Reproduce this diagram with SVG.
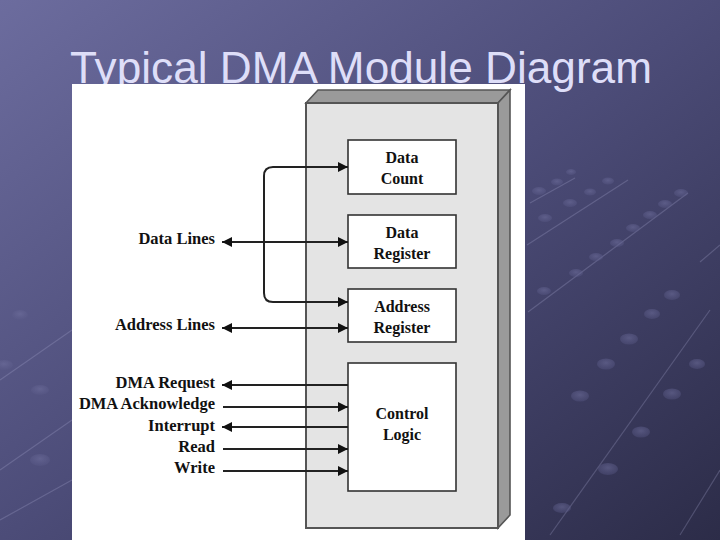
<svg xmlns="http://www.w3.org/2000/svg" width="720" height="540" viewBox="0 0 720 540">
  <defs>
    <linearGradient id="bg" x1="0" y1="0" x2="1" y2="1">
      <stop offset="0" stop-color="#6c6c9e"/>
      <stop offset="0.5" stop-color="#4c4c78"/>
      <stop offset="1" stop-color="#2c2c48"/>
    </linearGradient>
    <marker id="ah" markerUnits="userSpaceOnUse" markerWidth="11" markerHeight="10" refX="10" refY="5" orient="auto-start-reverse">
      <path d="M0,0 L10,5 L0,10 z" fill="#111"/>
    </marker>
    <radialGradient id="stud" cx="0.5" cy="0.4" r="0.6">
      <stop offset="0" stop-color="#7272a0" stop-opacity="0.55"/>
      <stop offset="1" stop-color="#5a5a88" stop-opacity="0.35"/>
    </radialGradient>
  </defs>
  <style>
    .title { font-family: "Liberation Sans", Arial, sans-serif; font-size: 44px; fill: #dedef8; }
    .lbl { font-family: "Liberation Serif", "Times New Roman", serif; font-size: 16.5px; font-weight: bold; fill: #111; }
    .blbl { font-family: "Liberation Serif", "Times New Roman", serif; font-size: 16px; font-weight: bold; fill: #111; }
    .box { fill: #ffffff; stroke: #333; stroke-width: 1.6; }
    .wire { fill: none; stroke: #222; stroke-width: 2; }
    .deco { stroke: #a8a8d0; stroke-opacity: 0.28; stroke-width: 1.2; fill: none; }
    .dot { fill: url(#stud); }
  </style>

  <rect x="0" y="0" width="720" height="540" fill="url(#bg)"/>

  <g id="background-decoration">
    <path class="deco" d="M530,203 L575,178"/>
    <path class="deco" d="M527,245 L628,180"/>
    <path class="deco" d="M528,312 L688,193"/>
    <path class="deco" d="M550,535 L710,310"/>
    <path class="deco" d="M680,535 L720,470"/>
    <path class="deco" d="M700,262 L720,245"/>
    <path class="deco" d="M0,520 L72,480"/>
    <path class="deco" d="M0,470 L72,420"/>
    <path class="deco" d="M0,380 L72,330"/>
    <ellipse class="dot" cx="539" cy="191" rx="7" ry="4"/>
    <ellipse class="dot" cx="557" cy="182" rx="6" ry="3.5"/>
    <ellipse class="dot" cx="571" cy="172" rx="5" ry="3"/>
    <ellipse class="dot" cx="545" cy="218" rx="7" ry="4"/>
    <ellipse class="dot" cx="570" cy="203" rx="7" ry="4"/>
    <ellipse class="dot" cx="590" cy="192" rx="6" ry="3.5"/>
    <ellipse class="dot" cx="608" cy="181" rx="6" ry="3.5"/>
    <ellipse class="dot" cx="544" cy="291" rx="7" ry="4"/>
    <ellipse class="dot" cx="576" cy="273" rx="7" ry="4"/>
    <ellipse class="dot" cx="596" cy="257" rx="7" ry="4"/>
    <ellipse class="dot" cx="617" cy="243" rx="7" ry="4"/>
    <ellipse class="dot" cx="633" cy="228" rx="7" ry="4"/>
    <ellipse class="dot" cx="650" cy="215" rx="7" ry="4"/>
    <ellipse class="dot" cx="665" cy="204" rx="7" ry="4"/>
    <ellipse class="dot" cx="681" cy="193" rx="7" ry="4"/>
    <ellipse class="dot" cx="562" cy="508" rx="9" ry="5"/>
    <ellipse class="dot" cx="608" cy="469" rx="10" ry="6"/>
    <ellipse class="dot" cx="641" cy="432" rx="9" ry="5.5"/>
    <ellipse class="dot" cx="672" cy="394" rx="9" ry="5.5"/>
    <ellipse class="dot" cx="697" cy="364" rx="8" ry="5"/>
    <ellipse class="dot" cx="580" cy="396" rx="9" ry="5.5"/>
    <ellipse class="dot" cx="606" cy="364" rx="9" ry="5.5"/>
    <ellipse class="dot" cx="629" cy="339" rx="9" ry="5.5"/>
    <ellipse class="dot" cx="652" cy="314" rx="8" ry="5"/>
    <ellipse class="dot" cx="672" cy="295" rx="8" ry="5"/>
    <ellipse class="dot" cx="20" cy="315" rx="8" ry="5"/>
    <ellipse class="dot" cx="40" cy="390" rx="9" ry="5"/>
    <ellipse class="dot" cx="4" cy="365" rx="9" ry="5"/>
    <ellipse class="dot" cx="40" cy="460" rx="10" ry="6"/>
  </g>

  <text class="title" x="70" y="83" textLength="582" lengthAdjust="spacingAndGlyphs">Typical DMA Module Diagram</text>

  <rect x="72" y="84" width="453" height="456" fill="#ffffff"/>

  <g id="dma-module">
    <polygon points="306,103 318,90 510,90 498,103" fill="#9a9a9a" stroke="#555" stroke-width="1.6"/>
    <polygon points="498,103 510,90 510,515 498,528" fill="#9a9a9a" stroke="#555" stroke-width="1.6"/>
    <rect x="306" y="103" width="192" height="425" fill="#e4e4e4" stroke="#555" stroke-width="2"/>
  </g>

  <g id="data-count">
    <rect class="box" x="348" y="140" width="108" height="54"/>
    <text class="blbl" x="402" y="163" text-anchor="middle">Data</text>
    <text class="blbl" x="402" y="184" text-anchor="middle">Count</text>
  </g>
  <g id="data-register">
    <rect class="box" x="348" y="215" width="108" height="53"/>
    <text class="blbl" x="402" y="238" text-anchor="middle">Data</text>
    <text class="blbl" x="402" y="259" text-anchor="middle">Register</text>
  </g>
  <g id="address-register">
    <rect class="box" x="348" y="289" width="108" height="53"/>
    <text class="blbl" x="402" y="312" text-anchor="middle">Address</text>
    <text class="blbl" x="402" y="333" text-anchor="middle">Register</text>
  </g>
  <g id="control-logic">
    <rect class="box" x="348" y="363" width="108" height="128"/>
    <text class="blbl" x="402" y="419" text-anchor="middle">Control</text>
    <text class="blbl" x="402" y="440" text-anchor="middle">Logic</text>
  </g>

  <g id="labels">
    <text class="lbl" x="215" y="244" text-anchor="end">Data Lines</text>
    <text class="lbl" x="215" y="330" text-anchor="end">Address Lines</text>
    <text class="lbl" x="215" y="388" text-anchor="end">DMA Request</text>
    <text class="lbl" x="215" y="409" text-anchor="end">DMA Acknowledge</text>
    <text class="lbl" x="215" y="431" text-anchor="end">Interrupt</text>
    <text class="lbl" x="215" y="452" text-anchor="end">Read</text>
    <text class="lbl" x="215" y="473" text-anchor="end">Write</text>
  </g>

  <g id="connectors">
    <path class="wire" d="M348,167 L273,167 Q264,167 264,176 L264,293 Q264,302 273,302 L348,302" marker-start="url(#ah)" marker-end="url(#ah)"/>
    <path class="wire" d="M222,242 L348,242" marker-start="url(#ah)" marker-end="url(#ah)"/>
    <path class="wire" d="M222,328 L348,328" marker-start="url(#ah)" marker-end="url(#ah)"/>
    <path class="wire" d="M348,385 L222,385" marker-end="url(#ah)"/>
    <path class="wire" d="M223,407 L348,407" marker-end="url(#ah)"/>
    <path class="wire" d="M348,427 L222,427" marker-end="url(#ah)"/>
    <path class="wire" d="M223,449 L348,449" marker-end="url(#ah)"/>
    <path class="wire" d="M223,471 L348,471" marker-end="url(#ah)"/>
  </g>
</svg>
